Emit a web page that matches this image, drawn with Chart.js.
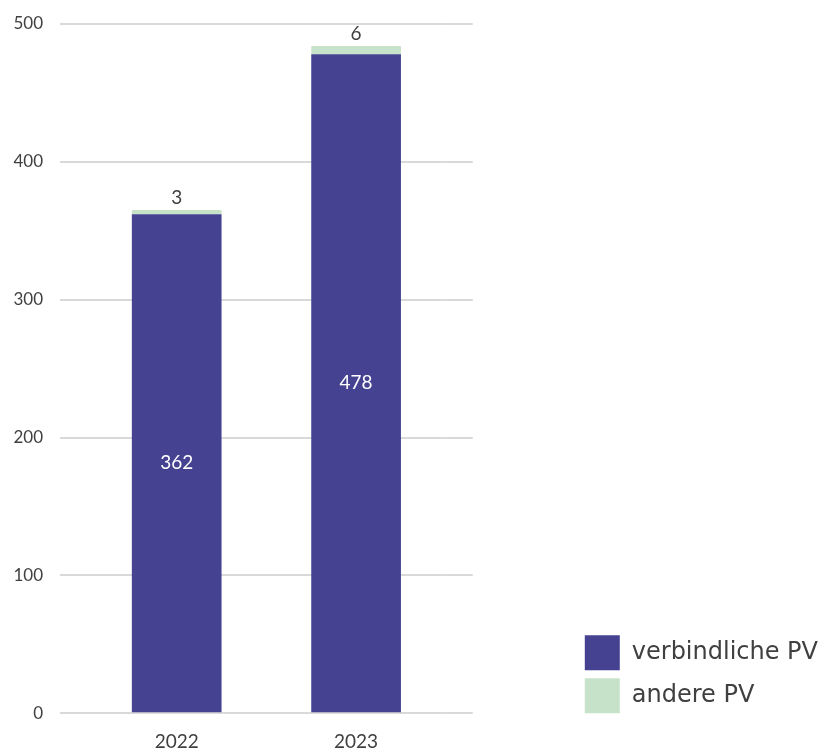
<!DOCTYPE html>
<html>
<head>
<meta charset="utf-8">
<script src="https://cdn.jsdelivr.net/npm/chart.js@4/dist/chart.umd.min.js"></script>
<style>
  html, body { margin: 0; padding: 0; background: #ffffff; }
  #wrap { width: 832px; height: 752px; }
</style>
</head>
<body>
<div id="wrap"><canvas id="c"></canvas></div>
<script>
// Stacked totals per year
const years = ['2022', '2023'];
const verbindlichePV = [362, 478];
const anderePV = [3, 6];
const seriesNames = ['verbindliche PV', 'andere PV'];
const yMin = 0;
const yMax = 500;
const yStep = 100;

const FONT = 'Lato, "Noto Sans", sans-serif';
const LEGEND_FONT = '"DejaVu Sans", sans-serif';
const TEXT = '#404040';
const DARK = '#454291';
const LIGHT = '#c6e2c9';
const GRID = '#d9d9d9';
const LEGEND_PAD = 8;

// Writes each segment's value on the bars
const barValueLabels = {
  id: 'barValueLabels',
  afterDatasetsDraw(chart) {
    const ctx = chart.ctx;
    chart.data.datasets.forEach((ds, di) => {
      const meta = chart.getDatasetMeta(di);
      if (meta.hidden) return;
      meta.data.forEach((bar, i) => {
        const { x, y, base } = bar.getProps(['x', 'y', 'base'], true);
        ctx.save();
        ctx.font = '19px ' + FONT;
        ctx.textAlign = 'center';
        if (di === 0) {
          ctx.fillStyle = '#ffffff';
          ctx.textBaseline = 'middle';
          ctx.fillText(String(ds.data[i]), x, (y + base) / 2);
        } else {
          ctx.fillStyle = TEXT;
          ctx.textBaseline = 'bottom';
          ctx.fillText(String(ds.data[i]), x, y - 3);
        }
        ctx.restore();
      });
    });
  }
};

// Lets the end-aligned legend sit flush with the bottom of the plot
const legendFlushBottom = {
  id: 'legendFlushBottom',
  afterLayout(chart) {
    const lg = chart.legend;
    if (!lg) return;
    lg.top += LEGEND_PAD;
    lg.bottom += LEGEND_PAD;
  }
};

new Chart(document.getElementById('c'), {
  type: 'bar',
  data: {
    labels: years,
    datasets: [
      { label: seriesNames[0], data: verbindlichePV, backgroundColor: DARK, yAxisID: 'y' },
      { label: seriesNames[1], data: anderePV, backgroundColor: LIGHT, yAxisID: 'y' }
    ]
  },
  options: {
    responsive: true,
    maintainAspectRatio: false,
    animation: false,
    layout: { padding: { top: 24, left: 0, right: 4, bottom: 0 } },
    datasets: { bar: { categoryPercentage: 0.5, barPercentage: 1.0 } },
    scales: {
      x: {
        stacked: true,
        grid: { display: false, drawTicks: true, tickLength: 18 },
        border: { display: false },
        ticks: { color: TEXT, font: { family: FONT, size: 19 }, padding: -1 }
      },
      y: {
        stacked: true,
        position: 'left',
        min: yMin, max: yMax,
        grid: { color: GRID, lineWidth: 2, drawTicks: true, tickLength: 27, tickColor: GRID },
        border: { display: false },
        ticks: { stepSize: yStep, color: TEXT, font: { family: FONT, size: 17, lineHeight: 0.8 }, padding: 17 },
        afterFit(scale) { scale.width = 87; }
      },
      y2: {
        position: 'right',
        min: yMin, max: yMax,
        grid: { color: GRID, lineWidth: 2, drawOnChartArea: false, drawTicks: true, tickLength: 27, tickColor: GRID },
        border: { display: false },
        ticks: { stepSize: yStep, display: false },
        afterFit(scale) { scale.width = 131; }
      }
    },
    plugins: {
      tooltip: { enabled: false },
      legend: {
        position: 'right',
        align: 'end',
        fullSize: false,
        maxWidth: 320,
        labels: {
          boxWidth: 35,
          boxHeight: 35,
          padding: LEGEND_PAD,
          color: TEXT,
          font: { family: LEGEND_FONT, size: 24 }
        }
      }
    }
  },
  plugins: [barValueLabels, legendFlushBottom]
});
</script>
</body>
</html>
